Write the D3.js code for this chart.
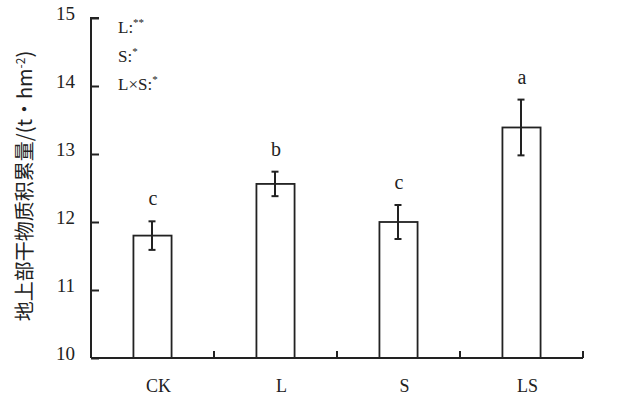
<!DOCTYPE html>
<html>
<head>
<meta charset="utf-8">
<script src="https://cdn.jsdelivr.net/npm/d3@7"></script>
<style>
  body { margin: 0; background: #fff; }
  svg text { font-family: "Liberation Serif", "Times New Roman", serif; fill: #222; }
</style>
</head>
<body>
<div id="chart"></div>
<script>
// treatments and means
const groups = ["CK", "L", "S", "LS"];
const means = [11.8, 12.56, 12.0, 13.39];
const errors = [0.21, 0.18, 0.25, 0.41];
const letters = ["c", "b", "c", "a"];
const yTicks = [10, 11, 12, 13, 14, 15];

const width = 625, height = 398;
const margin = { top: 18, right: 42, bottom: 40, left: 91 };
const innerW = width - margin.left - margin.right;
const innerH = height - margin.top - margin.bottom;
const serif = "'Liberation Serif', 'Times New Roman', serif";

const svg = d3.select("#chart").append("svg")
    .attr("width", width)
    .attr("height", height);

const g = svg.append("g")
    .attr("transform", `translate(${margin.left},${margin.top})`);

const x = d3.scaleBand()
    .domain(groups)
    .range([0, innerW])
    .paddingInner(0);

const y = d3.scaleLinear()
    .domain([10, 15])
    .range([innerH, 0]);

const barW = x.bandwidth() * 0.31;
const ink = "#222";

// bars
g.selectAll(".bar")
    .data(groups)
    .join("rect")
    .attr("class", "bar")
    .attr("x", d => x(d) + x.bandwidth() / 2 - barW / 2)
    .attr("y", (d, i) => y(means[i]))
    .attr("width", barW)
    .attr("height", (d, i) => innerH - y(means[i]))
    .attr("fill", "#fff")
    .attr("stroke", ink)
    .attr("stroke-width", 1.8);

// error bars
const eb = g.selectAll(".err")
    .data(groups)
    .join("g")
    .attr("class", "err")
    .attr("transform", d => `translate(${x(d) + x.bandwidth() / 2 - 0.5},0)`);

eb.append("line")
    .attr("y1", (d, i) => y(means[i] + errors[i]))
    .attr("y2", (d, i) => y(means[i] - errors[i]))
    .attr("stroke", ink).attr("stroke-width", 2);
eb.append("line")
    .attr("x1", -3.5).attr("x2", 3.5)
    .attr("y1", (d, i) => y(means[i] + errors[i]))
    .attr("y2", (d, i) => y(means[i] + errors[i]))
    .attr("stroke", ink).attr("stroke-width", 2);
eb.append("line")
    .attr("x1", -3.5).attr("x2", 3.5)
    .attr("y1", (d, i) => y(means[i] - errors[i]))
    .attr("y2", (d, i) => y(means[i] - errors[i]))
    .attr("stroke", ink).attr("stroke-width", 2);

// significance letters
eb.append("text")
    .attr("x", 1)
    .attr("y", (d, i) => y(means[i] + errors[i]) - 16)
    .attr("text-anchor", "middle")
    .style("font-family", serif)
    .style("font-size", "20px")
    .text((d, i) => letters[i]);

// y axis, ticks pointing inward
const yAxis = d3.axisRight(y)
    .tickValues(yTicks)
    .tickSize(8)
    .tickFormat(d3.format("d"));

const yAxisG = g.append("g").call(yAxis);
yAxisG.select(".domain")
    .attr("d", `M8,0H0V${innerH}`)
    .attr("stroke", ink).attr("stroke-width", 2);
yAxisG.selectAll(".tick line").attr("stroke", ink).attr("stroke-width", 2);
yAxisG.selectAll(".tick text")
    .attr("x", -16)
    .attr("dy", "0.08em")
    .attr("text-anchor", "end")
    .style("font-size", "19px")
    .style("font-family", serif)
    .attr("fill", ink);

// x axis: baseline with small upward ticks between groups
const xAxisG = g.append("g").attr("transform", `translate(0,${innerH})`);
xAxisG.append("line")
    .attr("x1", 0).attr("x2", innerW)
    .attr("stroke", ink).attr("stroke-width", 2);
xAxisG.selectAll(".sep")
    .data(groups)
    .join("line")
    .attr("class", "sep")
    .attr("x1", d => x(d) + x.bandwidth())
    .attr("x2", d => x(d) + x.bandwidth())
    .attr("y1", 0).attr("y2", -7)
    .attr("stroke", ink).attr("stroke-width", 2);
xAxisG.selectAll(".xlab")
    .data(groups)
    .join("text")
    .attr("class", "xlab")
    .attr("x", d => x(d) + x.bandwidth() / 2 + 6)
    .attr("y", 34)
    .attr("text-anchor", "middle")
    .style("font-family", serif)
    .style("font-size", "18px")
    .text(d => d);

// y axis title
svg.append("text")
    .attr("transform", "translate(32,186) rotate(-90)")
    .attr("text-anchor", "middle")
    .style("font-family", "'Noto Sans CJK SC', sans-serif")
    .style("font-size", "20px")
    .attr("fill", "#2a2a2a")
    .html('地上部干物质积累量/(t·hm<tspan dy="-7" style="font-size:12px">-2</tspan><tspan dy="7">)</tspan>');

// two-way ANOVA significance
const legendRows = [["L:", "**"], ["S:", "*"], ["L×S:", "*"]];
const legend = svg.append("g").attr("transform", "translate(118,33)");
legend.selectAll("text")
    .data(legendRows)
    .join("text")
    .attr("y", (d, i) => i * 28.5)
    .style("font-family", serif)
    .style("font-size", "17px")
    .html(d => `${d[0]}<tspan dy="-7" style="font-size:11px">${d[1]}</tspan>`);
</script>
</body>
</html>
